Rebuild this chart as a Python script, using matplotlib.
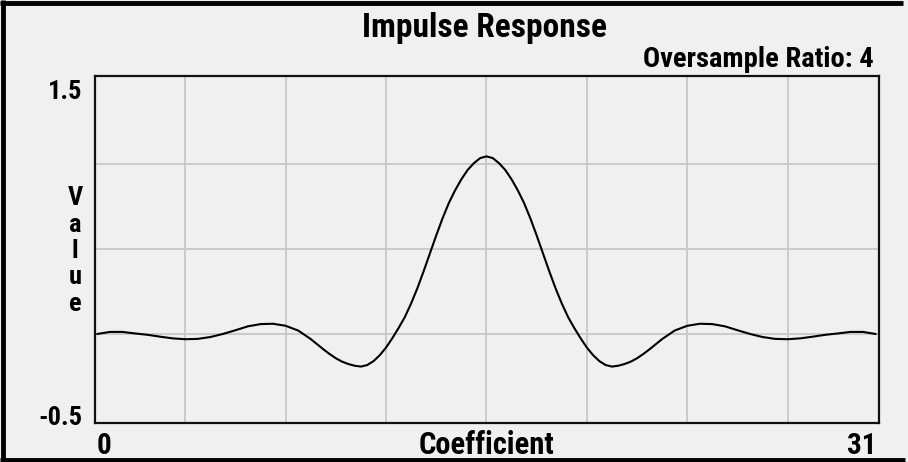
import matplotlib
matplotlib.use("Agg")
import matplotlib.pyplot as plt
from matplotlib.lines import Line2D
from matplotlib import font_manager

# impulse response (coefficient index, value)
coef = [0.0, 0.5, 1.0, 1.5, 2.0, 2.5, 3.0, 3.5, 4.0, 4.5,
        5.0, 5.5, 6.0, 6.5, 7.0, 7.5, 8.0, 8.5,
        9.0, 9.25, 9.5, 9.75, 10.0, 10.25, 10.5, 10.75,
        11.0, 11.25, 11.5, 11.75, 12.0, 12.25, 12.5, 12.75,
        13.0, 13.25, 13.5, 13.75, 14.0, 14.25, 14.5, 14.75,
        15.0, 15.25, 15.5, 15.75, 16.0, 16.25, 16.5, 16.75,
        17.0, 17.25, 17.5, 17.75, 18.0, 18.25, 18.5, 18.75,
        19.0, 19.25, 19.5, 19.75, 20.0, 20.25, 20.5, 20.75,
        21.0, 21.25, 21.5, 21.75, 22.0,
        22.5, 23.0, 23.5, 24.0, 24.5, 25.0, 25.5, 26.0,
        26.5, 27.0, 27.5, 28.0, 28.5, 29.0, 29.5, 30.0, 30.5, 31.0]
value = [0.0, 0.012, 0.012, 0.003, -0.005, -0.016, -0.026, -0.031, -0.029, -0.018,
         0.0, 0.022, 0.045, 0.058, 0.06, 0.048, 0.02, -0.03,
         -0.09, -0.118, -0.143, -0.163, -0.177, -0.187, -0.192, -0.183,
         -0.16, -0.125, -0.08, -0.025, 0.035, 0.10, 0.18, 0.27,
         0.37, 0.475, 0.58, 0.68, 0.77, 0.845, 0.91, 0.965,
         1.005, 1.035, 1.045, 1.035, 1.005, 0.965, 0.91, 0.845,
         0.77, 0.68, 0.58, 0.475, 0.37, 0.27, 0.18, 0.10,
         0.035, -0.025, -0.08, -0.125, -0.16, -0.183, -0.192, -0.187,
         -0.177, -0.163, -0.143, -0.118, -0.09,
         -0.03, 0.02, 0.048, 0.06, 0.058, 0.045, 0.022, 0.0,
         -0.018, -0.029, -0.031, -0.026, -0.016, -0.005, 0.003, 0.012, 0.012, 0.0]

xgrid = [3.5, 7.5, 11.5, 15.5, 19.5, 23.5, 27.5]
ygrid = [0.0, 0.5, 1.0]

title = "Impulse Response"
subtitle = "Oversample Ratio: 4"
xlabel = "Coefficient"
ylabel = "Value"

W, H = 908, 462
bg = "#f0f0f0"

# narrow bold face if there is one
names = set(f.name for f in font_manager.fontManager.ttflist)
fnt = ["DejaVu Sans"]
for cand in ["Liberation Sans Narrow", "Roboto Condensed", "Open Sans Condensed"]:
    if cand in names:
        fnt = [cand, "DejaVu Sans"]
        break
tk = dict(fontweight="bold", family=fnt, fontstretch="condensed")

fig = plt.figure(figsize=(W / 100, H / 100), dpi=100, facecolor=bg)


def px(x, y):
    return x / W, 1 - y / H


ax = fig.add_axes([95 / W, (H - 423) / H, 784 / W, 347 / H], facecolor=bg)
ax.set_xlim(-0.096, 31.14)
ax.set_ylim(-0.524, 1.518)
ax.set_xticks(xgrid)
ax.set_yticks(ygrid)
ax.tick_params(length=0, labelbottom=False, labelleft=False)
ax.grid(True, color="#c8c8c8", lw=1.3)
for s in ax.spines.values():
    s.set_linewidth(1.6)
    s.set_color("#111111")

ax.plot(coef, value, color="black", lw=1.5)

# texts
fig.text(*px(485, 37), title, ha="center", va="baseline", fontsize=24, **tk)
fig.text(*px(874, 67), subtitle, ha="right", va="baseline", fontsize=20.5, **tk)
fig.text(*px(82, 99), "1.5", ha="right", va="baseline", fontsize=19, **tk)
fig.text(*px(82, 425), "-0.5", ha="right", va="baseline", fontsize=19, **tk)
fig.text(*px(97, 454), "0", ha="left", va="baseline", fontsize=21, **tk)
fig.text(*px(876, 454), "31", ha="right", va="baseline", fontsize=21, **tk)
fig.text(*px(486, 454), xlabel, ha="center", va="baseline", fontsize=22, **tk)
fig.text(*px(75, 251), "\n".join(ylabel), ha="center", va="center", fontsize=19,
         linespacing=1.12, **tk)

# screen border (left, top, bottom)
for xs, ys in [([2.5, 2.5], [0, H]), ([0, 903], [2.5, 2.5]), ([0, 905], [459.5, 459.5])]:
    fig.add_artist(Line2D([x / W for x in xs], [1 - y / H for y in ys],
                          color="black", lw=3.5, solid_capstyle="butt"))

fig.savefig("out.png", dpi=100, facecolor=bg)
